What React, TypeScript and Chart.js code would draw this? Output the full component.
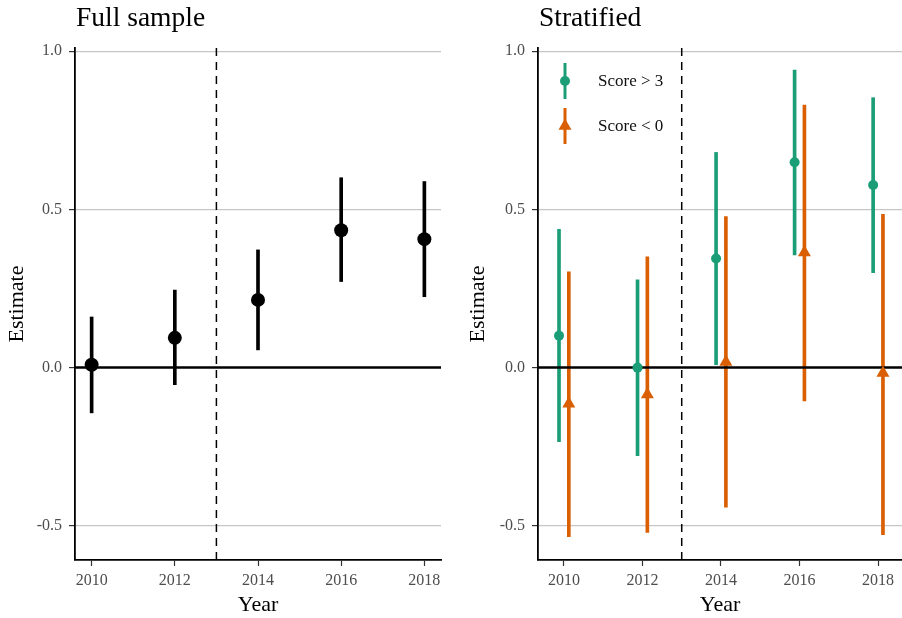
import React, { useEffect, useRef } from "react";
import { Chart, registerables } from "chart.js";

Chart.register(...registerables);

// ---------- data ----------
const YEARS = [2010, 2012, 2014, 2016, 2018];

const FULL_EST = [0.009, 0.094, 0.214, 0.434, 0.406];
const FULL_LO = [-0.143, -0.054, 0.056, 0.272, 0.224];
const FULL_HI = [0.16, 0.245, 0.372, 0.6, 0.588];

const HIGH_LABEL = "Score > 3";
const HIGH_EST = [0.101, 0.0, 0.345, 0.649, 0.577];
const HIGH_LO = [-0.234, -0.278, 0.009, 0.356, 0.3];
const HIGH_HI = [0.437, 0.277, 0.68, 0.94, 0.853];

const LOW_LABEL = "Score < 0";
const LOW_EST = [-0.114, -0.085, 0.018, 0.364, -0.017];
const LOW_LO = [-0.534, -0.521, -0.441, -0.105, -0.528];
const LOW_HI = [0.303, 0.35, 0.477, 0.83, 0.484];

const X_TICKS = [2010, 2012, 2014, 2016, 2018];
const Y_TICKS = [-0.5, 0, 0.5, 1.0];
const BREAK_YEAR = 2013;
const REF_LINE = 0;

const Y_MIN = -0.608;
const Y_MAX = 1.01;

// ---------- style ----------
const FONT = '"Liberation Serif", "DejaVu Serif", serif';
const GREEN = "#1b9e77";
const ORANGE = "#d95f02";
const DODGE = 0.125;

type PanelSpec = {
  title: string;
  xMin: number;
  xMax: number;
  yAxisWidth: number;
  yTitlePad: number;
  padRight: number;
  series: {
    label: string;
    color: string;
    est: number[];
    lo: number[];
    hi: number[];
    shift: number;
    pointStyle: string;
    radius: number;
  }[];
  legend: boolean;
};

function buildConfig(spec: PanelSpec): any {
  const datasets: any[] = [];
  datasets.push({
    type: "line",
    data: [
      { x: BREAK_YEAR, y: Y_MIN },
      { x: BREAK_YEAR, y: Y_MAX },
    ],
    borderColor: "#000",
    borderWidth: 1.5,
    borderDash: [8, 6],
    pointRadius: 0,
    order: 5,
  });
  spec.series.forEach((s) => {
    datasets.push({
      type: "bar",
      label: s.label + " CI",
      data: YEARS.map((yr, i) => ({ x: yr + s.shift, y: [s.lo[i], s.hi[i]] })),
      backgroundColor: s.color,
      borderWidth: 0,
      barThickness: 3,
      grouped: false,
      order: 4,
    });
  });
  datasets.push({
    type: "line",
    data: [
      { x: spec.xMin, y: REF_LINE },
      { x: spec.xMax, y: REF_LINE },
    ],
    borderColor: "#000",
    borderWidth: 2.5,
    pointRadius: 0,
    order: 3,
  });
  spec.series.forEach((s) => {
    datasets.push({
      type: "scatter",
      label: s.label,
      data: YEARS.map((yr, i) => ({ x: yr + s.shift, y: s.est[i] })),
      backgroundColor: s.color,
      borderColor: s.color,
      borderWidth: 0,
      pointStyle: s.pointStyle,
      pointRadius: s.radius,
      order: 1,
    });
  });

  const titlePlugin = {
    id: "panelTitle",
    afterDraw(chart: any) {
      const ctx = chart.ctx;
      ctx.save();
      ctx.font = `27.5px ${FONT}`;
      ctx.fillStyle = "#000";
      ctx.textAlign = "left";
      ctx.textBaseline = "alphabetic";
      ctx.fillText(spec.title, chart.chartArea.left + 1, 26);
      ctx.restore();
    },
  };

  const legendPlugin = {
    id: "errLegend",
    afterDraw(chart: any) {
      if (!spec.legend) return;
      const ctx = chart.ctx;
      const { left, top } = chart.chartArea;
      const gx = left + 27;
      const rows = [33, 78];
      spec.series.forEach((s, i) => {
        const cy = top + rows[i];
        ctx.save();
        ctx.strokeStyle = s.color;
        ctx.fillStyle = s.color;
        ctx.lineWidth = 3;
        ctx.beginPath();
        ctx.moveTo(gx, cy - 18);
        ctx.lineTo(gx, cy + 18);
        ctx.stroke();
        ctx.beginPath();
        if (s.pointStyle === "triangle") {
          const r = s.radius;
          ctx.moveTo(gx, cy - r);
          ctx.lineTo(gx + r * 0.866, cy + r / 2);
          ctx.lineTo(gx - r * 0.866, cy + r / 2);
          ctx.closePath();
        } else {
          ctx.arc(gx, cy, s.radius, 0, Math.PI * 2);
        }
        ctx.fill();
        ctx.fillStyle = "#111";
        ctx.font = `17px ${FONT}`;
        ctx.textAlign = "left";
        ctx.textBaseline = "middle";
        ctx.fillText(s.label, left + 60, cy + 1);
        ctx.restore();
      });
    },
  };

  return {
    type: "bar",
    data: { datasets },
    plugins: [titlePlugin, legendPlugin],
    options: {
      responsive: false,
      animation: false,
      devicePixelRatio: 1,
      layout: { padding: { top: 48, right: spec.padRight, left: 0, bottom: 0 } },
      plugins: { legend: { display: false }, tooltip: { enabled: false } },
      scales: {
        x: {
          type: "linear",
          min: spec.xMin,
          max: spec.xMax,
          offset: false,
          afterBuildTicks: (s: any) => {
            s.ticks = X_TICKS.map((v) => ({ value: v }));
          },
          afterFit: (s: any) => {
            s.height = 58;
          },
          grid: {
            offset: false,
            drawOnChartArea: false,
            tickLength: 6,
            tickColor: "#333",
            tickWidth: 1.2,
          },
          border: { color: "#000", width: 1.8 },
          ticks: {
            color: "#4d4d4d",
            font: { family: FONT, size: 16 },
            padding: 5,
            maxRotation: 0,
            autoSkip: false,
            callback: (v: any) => String(v),
          },
          title: {
            display: true,
            text: "Year",
            color: "#000",
            font: { family: FONT, size: 22 },
            padding: { top: 0, bottom: 0 },
          },
        },
        y: {
          type: "linear",
          min: Y_MIN,
          max: Y_MAX,
          afterBuildTicks: (s: any) => {
            s.ticks = Y_TICKS.map((v) => ({ value: v }));
          },
          afterFit: (s: any) => {
            s.width = spec.yAxisWidth;
          },
          grid: {
            color: (c: any) => (c.tick && c.tick.value === REF_LINE ? "rgba(0,0,0,0)" : "#c6c6c6"),
            lineWidth: 1.2,
            tickLength: 6,
            tickColor: "#333",
            tickWidth: 1.2,
          },
          border: { color: "#000", width: 1.8 },
          ticks: {
            color: "#4d4d4d",
            font: { family: FONT, size: 16 },
            padding: 7,
            callback: (v: any) => Number(v).toFixed(1),
          },
          title: {
            display: true,
            text: "Estimate",
            color: "#000",
            font: { family: FONT, size: 22 },
            padding: { top: spec.yTitlePad, bottom: 0 },
          },
        },
      },
    },
  };
}

const LEFT_SPEC: PanelSpec = {
  title: "Full sample",
  xMin: 2009.6,
  xMax: 2018.4,
  yAxisWidth: 75,
  yTitlePad: 4,
  padRight: 19,
  legend: false,
  series: [
    {
      label: "Full sample",
      color: "#000",
      est: FULL_EST,
      lo: FULL_LO,
      hi: FULL_HI,
      shift: 0,
      pointStyle: "circle",
      radius: 7,
    },
  ],
};

// right canvas is 462 px wide; its plot area ends at 442 (the window edge),
// the remaining strip is clipped by the container.
const RIGHT_SPEC: PanelSpec = {
  title: "Stratified",
  xMin: 2009.34,
  xMax: 2018.61,
  yAxisWidth: 78,
  yTitlePad: 5,
  padRight: 20,
  legend: true,
  series: [
    {
      label: HIGH_LABEL,
      color: GREEN,
      est: HIGH_EST,
      lo: HIGH_LO,
      hi: HIGH_HI,
      shift: -DODGE,
      pointStyle: "circle",
      radius: 5,
    },
    {
      label: LOW_LABEL,
      color: ORANGE,
      est: LOW_EST,
      lo: LOW_LO,
      hi: LOW_HI,
      shift: DODGE,
      pointStyle: "triangle",
      radius: 7.5,
    },
  ],
};

function Panel({ spec, left, width }: { spec: PanelSpec; left: number; width: number }) {
  const ref = useRef<HTMLCanvasElement>(null);
  useEffect(() => {
    const chart = new Chart(ref.current as HTMLCanvasElement, buildConfig(spec));
    return () => chart.destroy();
  }, [spec]);
  return (
    <canvas
      ref={ref}
      width={width}
      height={618}
      style={{ position: "absolute", left, top: 0, width, height: 618 }}
    />
  );
}

export default function App() {
  return (
    <div
      style={{
        position: "absolute",
        left: 0,
        top: 0,
        width: 902,
        height: 618,
        background: "#fff",
        overflow: "hidden",
      }}
    >
      <Panel spec={LEFT_SPEC} left={0} width={460} />
      <Panel spec={RIGHT_SPEC} left={460} width={462} />
    </div>
  );
}
